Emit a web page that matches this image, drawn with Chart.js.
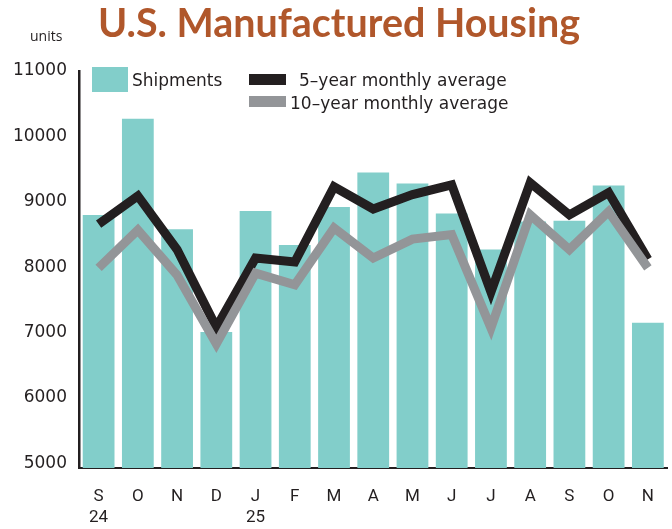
<!DOCTYPE html>
<html>
<head>
<meta charset="utf-8">
<script src="https://cdn.jsdelivr.net/npm/chart.js@4"></script>
<style>
  html, body { margin:0; padding:0; background:#fff; }
  #wrap { position:relative; width:672px; height:529px; overflow:hidden; }
  canvas { position:absolute; left:0; top:0; }
  .t { position:absolute; white-space:nowrap; color:#231f20; }
  #title { left:98px; top:1px; font-family:Lato,"Open Sans",sans-serif; font-weight:bold; font-size:41px; line-height:41px; color:#b0572b; transform-origin:0 0; }
  #units { left:30px; top:27px; font-family:"Open Sans",sans-serif; font-size:14px; line-height:18px; }
  .lg { font-family:"DejaVu Sans",Verdana,sans-serif; font-size:17px; line-height:20px; }
  .sw { position:absolute; }
</style>
</head>
<body>
<div id="wrap">
  <canvas id="c" width="672" height="529"></canvas>
  <div id="title" class="t">U.S. Manufactured Housing</div>
  <div id="units" class="t">units</div>
  <div class="sw" style="left:92px;top:67px;width:36px;height:25px;background:#82ceca"></div>
  <div class="t lg" style="left:132px;top:70px">Shipments</div>
  <div class="sw" style="left:249px;top:74px;width:37px;height:11px;background:#231f20"></div>
  <div class="t lg" style="left:299px;top:70px">5–year monthly average</div>
  <div class="sw" style="left:249px;top:96px;width:37px;height:11px;background:#939598"></div>
  <div class="t lg" style="left:290px;top:93px">10–year monthly average</div>
</div>
<script>
const months = ["S","O","N","D","J","F","M","A","M","J","J","A","S","O","N"];
const yearLabels = ["24","","","","25","","","","","","","","","",""];
const shipments = [8800, 10270, 8580, 7010, 8860, 8340, 8920, 9450, 9280, 8820, 8270, 8700, 8710, 9250, 7150];
const fiveYearAvg = [8660, 9090, 8270, 7080, 8140, 8080, 9230, 8890, 9110, 9260, 7620, 9290, 8800, 9140, 8120];
const tenYearAvg = [7990, 8570, 7880, 6830, 7910, 7730, 8600, 8140, 8430, 8500, 7070, 8800, 8270, 8850, 7990];
const yTicks = [5000, 6000, 7000, 8000, 9000, 10000, 11000];

// fit title width
const title = document.getElementById('title');
const tw = title.getBoundingClientRect().width;
title.style.transform = 'scaleX(' + (482 / tw) + ')';

const labels = months.map((m, i) => yearLabels[i] ? [m, yearLabels[i]] : [m]);

new Chart(document.getElementById('c'), {
  data: {
    labels: labels,
    datasets: [
      { type:'line', label:'10–year monthly average', data: tenYearAvg, borderColor:'#939598', borderWidth:9, tension:0, pointRadius:0, borderJoinStyle:'miter', borderCapStyle:'butt', order:1 },
      { type:'line', label:'5–year monthly average', data: fiveYearAvg, borderColor:'#231f20', borderWidth:9, tension:0, pointRadius:0, borderJoinStyle:'miter', borderCapStyle:'butt', order:2 },
      { type:'bar', label:'Shipments', data: shipments, backgroundColor:'#82ceca', categoryPercentage:1, barPercentage:0.81, order:3 }
    ]
  },
  options: {
    responsive:false,
    animation:false,
    events:[],
    layout:{ padding:{ left:0, right:2, top:71, bottom:0 } },
    plugins:{ legend:{ display:false }, tooltip:{ enabled:false }, title:{ display:false } },
    scales:{
      x:{
        grid:{ display:false, drawTicks:false },
        border:{ display:true, color:'#231f20', width:2 },
        ticks:{ color:'#231f20', font:{ family:'Roboto, sans-serif', size:17, weight:'normal', lineHeight:'21px' }, padding:18, maxRotation:0, autoSkip:false },
        afterFit(s){ s.height = 61; }
      },
      y:{
        min:4930, max:11000,
        grid:{ display:false, drawTicks:false },
        border:{ display:true, color:'#231f20', width:2.5 },
        afterBuildTicks(s){ s.ticks = yTicks.map(v => ({ value:v })); },
        ticks:{ color:'#231f20', font:{ family:'"DejaVu Sans", Verdana, sans-serif', size:17 }, padding:12, callback:v => String(v) },
        afterFit(s){ s.width = 79; }
      }
    }
  }
});
</script>
</body>
</html>
